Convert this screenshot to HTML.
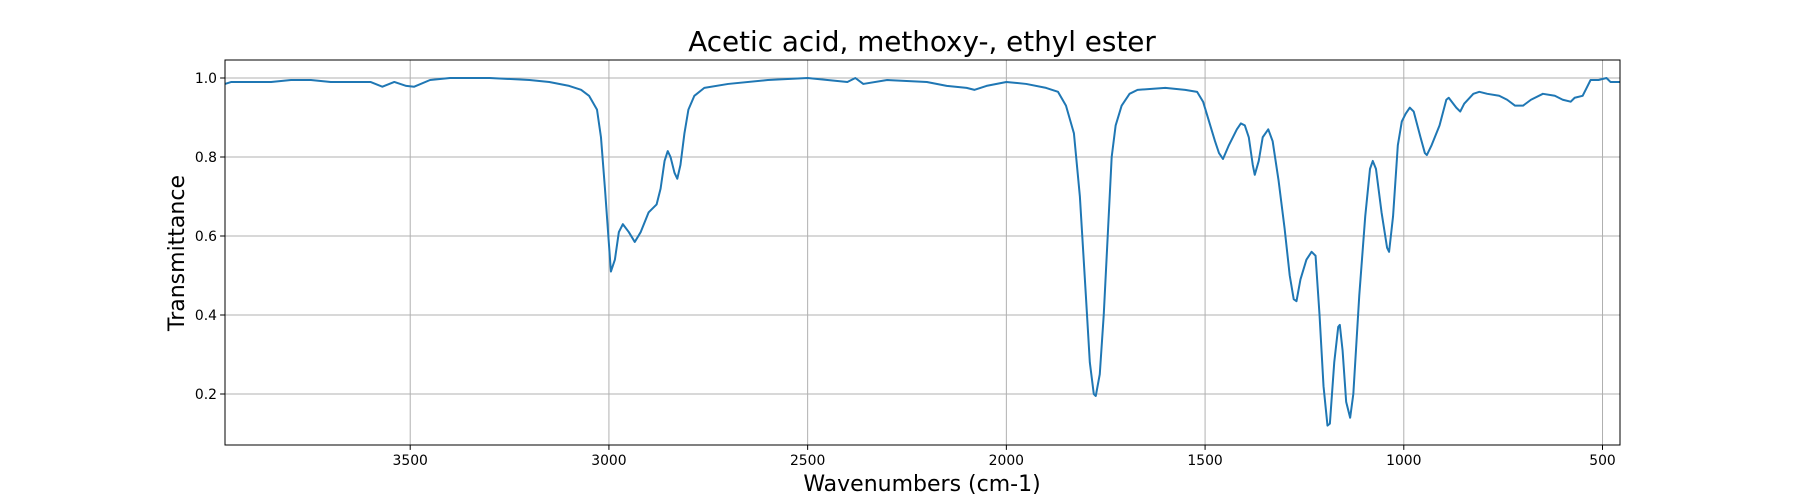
<!DOCTYPE html>
<html><head><meta charset="utf-8"><style>
body{margin:0;background:#fff;}
svg{display:block;font-family:"DejaVu Sans","Liberation Sans",sans-serif;}
</style></head><body>
<svg id="chart" width="1800" height="500" viewBox="0 0 1800 500">
<rect x="0" y="0" width="1800" height="500" fill="#fff"/>
<g id="grid"></g>
<g id="ticks"></g>
<path id="line" fill="none" stroke="#1f77b4" stroke-width="2" stroke-linejoin="round"/>
<rect x="225" y="60" width="1395" height="385" fill="none" stroke="#000" stroke-width="1"/>
<text x="922" y="51" font-size="27.8" text-anchor="middle">Acetic acid, methoxy-, ethyl ester</text>
<text x="922" y="491" font-size="22" text-anchor="middle">Wavenumbers (cm-1)</text>
<text transform="translate(184,253) rotate(-90)" font-size="22" text-anchor="middle">Transmittance</text>
</svg>
<script>
const xTicks=[3500,3000,2500,2000,1500,1000,500];
const yTicks=[0.2,0.4,0.6,0.8,1.0];
const yTickLabels=["0.2","0.4","0.6","0.8","1.0"];
const wavenumbers=[3966,3950,3900,3850,3800,3750,3700,3650,3600,3570,3540,3510,3490,3450,3400,3300,3200,3150,3100,3070,3050,3030,3020,3010,3000,2995,2985,2975,2965,2950,2935,2920,2900,2880,2870,2860,2852,2845,2835,2828,2820,2810,2800,2785,2760,2700,2600,2500,2450,2400,2380,2360,2300,2200,2150,2100,2080,2050,2000,1950,1900,1870,1850,1830,1815,1800,1790,1780,1775,1765,1755,1745,1735,1725,1710,1690,1670,1600,1550,1520,1505,1490,1475,1465,1455,1440,1420,1410,1400,1390,1380,1375,1365,1355,1341,1330,1315,1300,1287,1277,1270,1260,1245,1232,1222,1212,1202,1192,1186,1175,1165,1161,1154,1145,1135,1127,1112,1097,1085,1078,1070,1056,1042,1037,1027,1015,1005,995,985,975,958,947,942,930,910,893,887,868,858,848,825,810,790,760,740,720,700,680,650,620,600,580,570,550,540,530,510,490,480,470,456];
const transmittance=[0.985,0.99,0.99,0.99,0.995,0.995,0.99,0.99,0.99,0.978,0.99,0.98,0.978,0.995,1.0,1.0,0.995,0.99,0.98,0.97,0.955,0.92,0.85,0.72,0.58,0.51,0.54,0.61,0.63,0.61,0.585,0.61,0.66,0.68,0.72,0.79,0.815,0.8,0.76,0.745,0.78,0.86,0.92,0.955,0.975,0.985,0.995,1.0,0.995,0.99,1.0,0.985,0.995,0.99,0.98,0.975,0.97,0.98,0.99,0.985,0.975,0.965,0.93,0.86,0.7,0.45,0.28,0.2,0.195,0.25,0.4,0.6,0.8,0.88,0.93,0.96,0.97,0.975,0.97,0.965,0.94,0.89,0.84,0.81,0.795,0.83,0.87,0.885,0.88,0.85,0.78,0.755,0.79,0.85,0.87,0.84,0.74,0.62,0.5,0.44,0.435,0.49,0.54,0.56,0.55,0.4,0.22,0.12,0.125,0.28,0.37,0.375,0.31,0.18,0.14,0.2,0.45,0.65,0.77,0.79,0.77,0.66,0.57,0.56,0.65,0.83,0.89,0.91,0.925,0.915,0.85,0.81,0.805,0.83,0.88,0.945,0.95,0.925,0.915,0.935,0.96,0.965,0.96,0.955,0.945,0.93,0.93,0.945,0.96,0.955,0.945,0.94,0.95,0.955,0.975,0.995,0.995,1.0,0.99,0.99,0.99];
const X0=225,X1=1620,Y0=60,Y1=445,WMAX=3966,WMIN=456,TMAX=1.0456,TMIN=0.0709;
function xs(w){return X0+(WMAX-w)/(WMAX-WMIN)*(X1-X0);}
function ys(t){return Y1-(t-TMIN)/(TMAX-TMIN)*(Y1-Y0);}
const NS="http://www.w3.org/2000/svg";
const grid=document.getElementById('grid'),ticks=document.getElementById('ticks');
xTicks.forEach(w=>{
  const x=xs(w);
  const l=document.createElementNS(NS,'line');
  
  
  l.setAttribute('x1',x);l.setAttribute('x2',x);l.setAttribute('y1',Y0);l.setAttribute('y2',Y1);
  l.setAttribute('stroke','#b0b0b0');l.setAttribute('stroke-width','1');grid.appendChild(l);
  const t=document.createElementNS(NS,'line');
  
  
  t.setAttribute('x1',x);t.setAttribute('x2',x);t.setAttribute('y1',Y1);t.setAttribute('y2',Y1+4.9);
  t.setAttribute('stroke','#000');ticks.appendChild(t);
  const tx=document.createElementNS(NS,'text');
  
  
  tx.setAttribute('x',x);tx.setAttribute('y',Y1+20);tx.setAttribute('font-size','13.9');tx.setAttribute('text-anchor','middle');
  tx.textContent=w;ticks.appendChild(tx);
});
yTicks.forEach((v,i)=>{
  const y=ys(v);
  const l=document.createElementNS(NS,'line');
  
  
  l.setAttribute('x1',X0);l.setAttribute('x2',X1);l.setAttribute('y1',y);l.setAttribute('y2',y);
  l.setAttribute('stroke','#b0b0b0');l.setAttribute('stroke-width','1');grid.appendChild(l);
  const t=document.createElementNS(NS,'line');
  
  
  t.setAttribute('x1',X0-4.9);t.setAttribute('x2',X0);t.setAttribute('y1',y);t.setAttribute('y2',y);
  t.setAttribute('stroke','#000');ticks.appendChild(t);
  const tx=document.createElementNS(NS,'text');
  
  
  tx.setAttribute('x',X0-8);tx.setAttribute('y',y+5);tx.setAttribute('font-size','13.9');tx.setAttribute('text-anchor','end');
  tx.textContent=yTickLabels[i];ticks.appendChild(tx);
});
let d='';
wavenumbers.forEach((w,i)=>{d+=(i?'L':'M')+xs(w).toFixed(2)+','+ys(transmittance[i]).toFixed(2);});
document.getElementById('line').setAttribute('d',d);
</script>
</body></html>
